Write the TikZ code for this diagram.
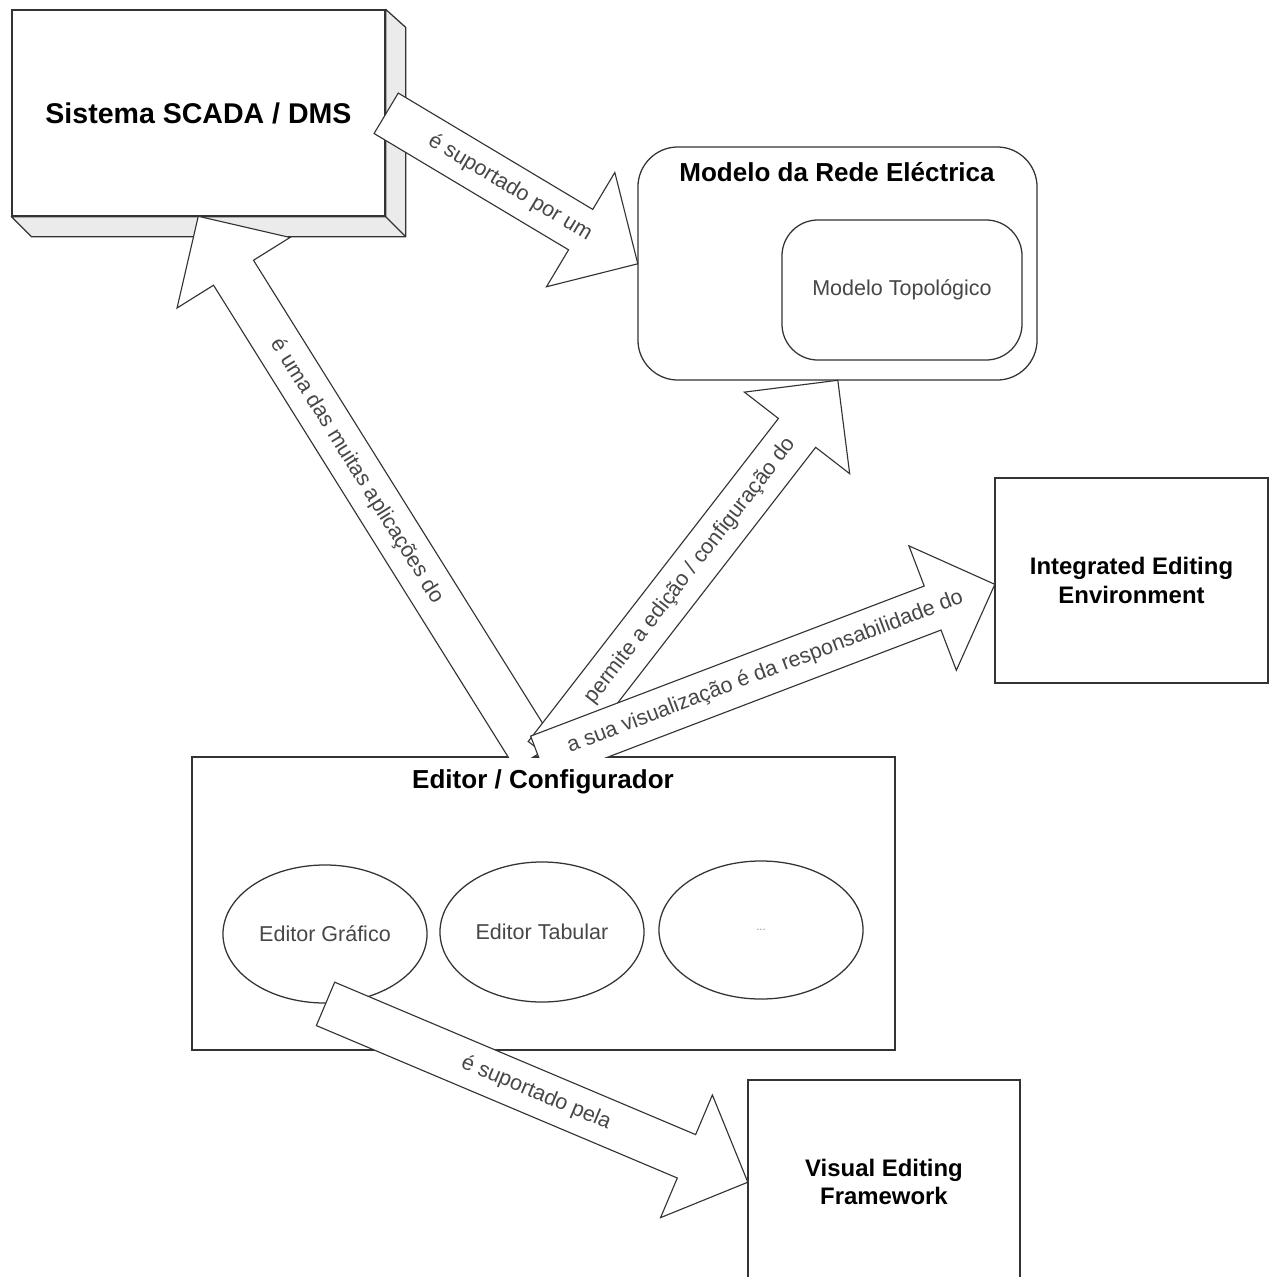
\documentclass[tikz,border=0pt]{standalone}
\usepackage{fontspec}
\setmainfont{Liberation Sans}
\usepackage{tikz}
\usetikzlibrary{calc}
\usetikzlibrary{shapes.arrows}
\usetikzlibrary{shapes.geometric}

\definecolor{linegray}{gray}{0.2}
\definecolor{labelgray}{gray}{0.28}
\definecolor{sidegray}{gray}{0.92}

\tikzset{
  box/.style={draw=linegray, line width=0.9pt, fill=white},
  bigtitle/.style={font=\fontsize{20.3}{24}\selectfont\bfseries},
  boxtitle/.style={font=\fontsize{18.5}{22}\selectfont\bfseries},
  smalltitle/.style={font=\fontsize{17}{20.5}\selectfont\bfseries, align=center},
  labeltext/.style={font=\fontsize{15.3}{18}\selectfont, text=labelgray},
  fatarrow/.style={single arrow, draw=linegray, line width=0.8pt, fill=white,
    single arrow head extend=30.6pt, single arrow tip angle=90,
    single arrow head indent=0pt, inner xsep=0pt, inner ysep=8.6pt,
    text height=12pt, text depth=3.5pt, labeltext,
    minimum height=#1, sloped, at start, anchor=tail},
}

\begin{document}
\begin{tikzpicture}[x=0.025cm,y=-0.025cm]
\path[use as bounding box] (0,0) rectangle (1274,1277);
\clip (0,0) rectangle (1274,1277);

% the boxes
\node[box, minimum width=9.325cm, minimum height=5.15cm, bigtitle] (scada) at (198.5,113) {Sistema SCADA / DMS};
\filldraw[draw=linegray, line width=0.9pt, fill=sidegray, line join=round]
  (scada.north east) -- ++(20,18) -- ([shift={(20,20)}]scada.south east)
  -- ([shift={(20,20)}]scada.south west) -- (scada.south west)
  -- (scada.south east) -- cycle;
\draw[linegray, line width=0.9pt] (scada.south east) -- ++(20,20);

\node[box, rounded corners=1cm, minimum width=9.975cm, minimum height=5.825cm] (modelo) at (837.5,263.5) {};
\node[boxtitle] (modelotitle) at (837,172) {Modelo da Rede Eléctrica};
\node[box, rounded corners=0.9cm, minimum width=6cm, minimum height=3.5cm, labeltext] (topo) at (902,290) {Modelo Topológico};

\node[box, minimum width=6.825cm, minimum height=5.125cm, smalltitle] (iee) at (1131.5,580.5) {Integrated Editing\\Environment};
\node[box, minimum width=6.8cm, minimum height=5.1cm, smalltitle] (vef) at (884,1182) {Visual Editing\\Framework};
\node[box, minimum width=17.575cm, minimum height=7.325cm] (editor) at (543.5,903.5) {};

% arrows leaving the editor, cut at its top edge
\coordinate (t2) at ($(editor.north)+(-8,0)$);
\coordinate (t3) at ($(editor.north)+(3,0)$);
\coordinate (t4) at ($(editor.north)+(-5,2)$);
\coordinate (h4) at ($(iee.west)+(0,4)$);
\begin{scope}
  \clip (0,0) rectangle (1274,757);
  \path let \p1=($(scada.south)-(t2)$), \n1={veclen(\x1,\y1)} in
    (t2) -- (scada.south) node[fatarrow=\n1, shape border rotate=180] {é uma das muitas aplicações do\hspace*{42pt}};
  \path let \p1=($(modelo.south)-(t3)$), \n1={veclen(\x1,\y1)} in
    (t3) -- (modelo.south) node[fatarrow=\n1] {\hspace*{12pt}permite a edição / configuração do};
  \path let \p1=($(h4)-(t4)$), \n1={veclen(\x1,\y1)} in
    (t4) -- (h4) node[fatarrow=\n1] {\hspace*{14pt}a sua visualização é da responsabilidade do};
\end{scope}

\path let \p1=($(modelo.west)-(scada.east)$), \n1={veclen(\x1,\y1)} in
  (scada.east) -- (modelo.west) node[fatarrow=\n1] {\hspace*{14pt}é suportado por um};

% inside the editor
\node[boxtitle] (editortitle) at (543,782) {Editor / Configurador};
\node[box, ellipse, minimum width=5.1cm, minimum height=3.45cm, labeltext] (grafico) at (325,934) {Editor Gráfico};
\node[box, ellipse, minimum width=5.1cm, minimum height=3.5cm, labeltext] (tabular) at (542,932) {Editor Tabular};
\node[box, ellipse, minimum width=5.1cm, minimum height=3.45cm, font=\fontsize{8}{9}\selectfont, text=black!45] (outros) at (761,930) {...};

\path let \p1=($(vef.west)-(grafico.south)$), \n1={veclen(\x1,\y1)} in
  (grafico.south) -- (vef.west) node[fatarrow=\n1] {\hspace*{16pt}é suportado pela};
\end{tikzpicture}
\end{document}
